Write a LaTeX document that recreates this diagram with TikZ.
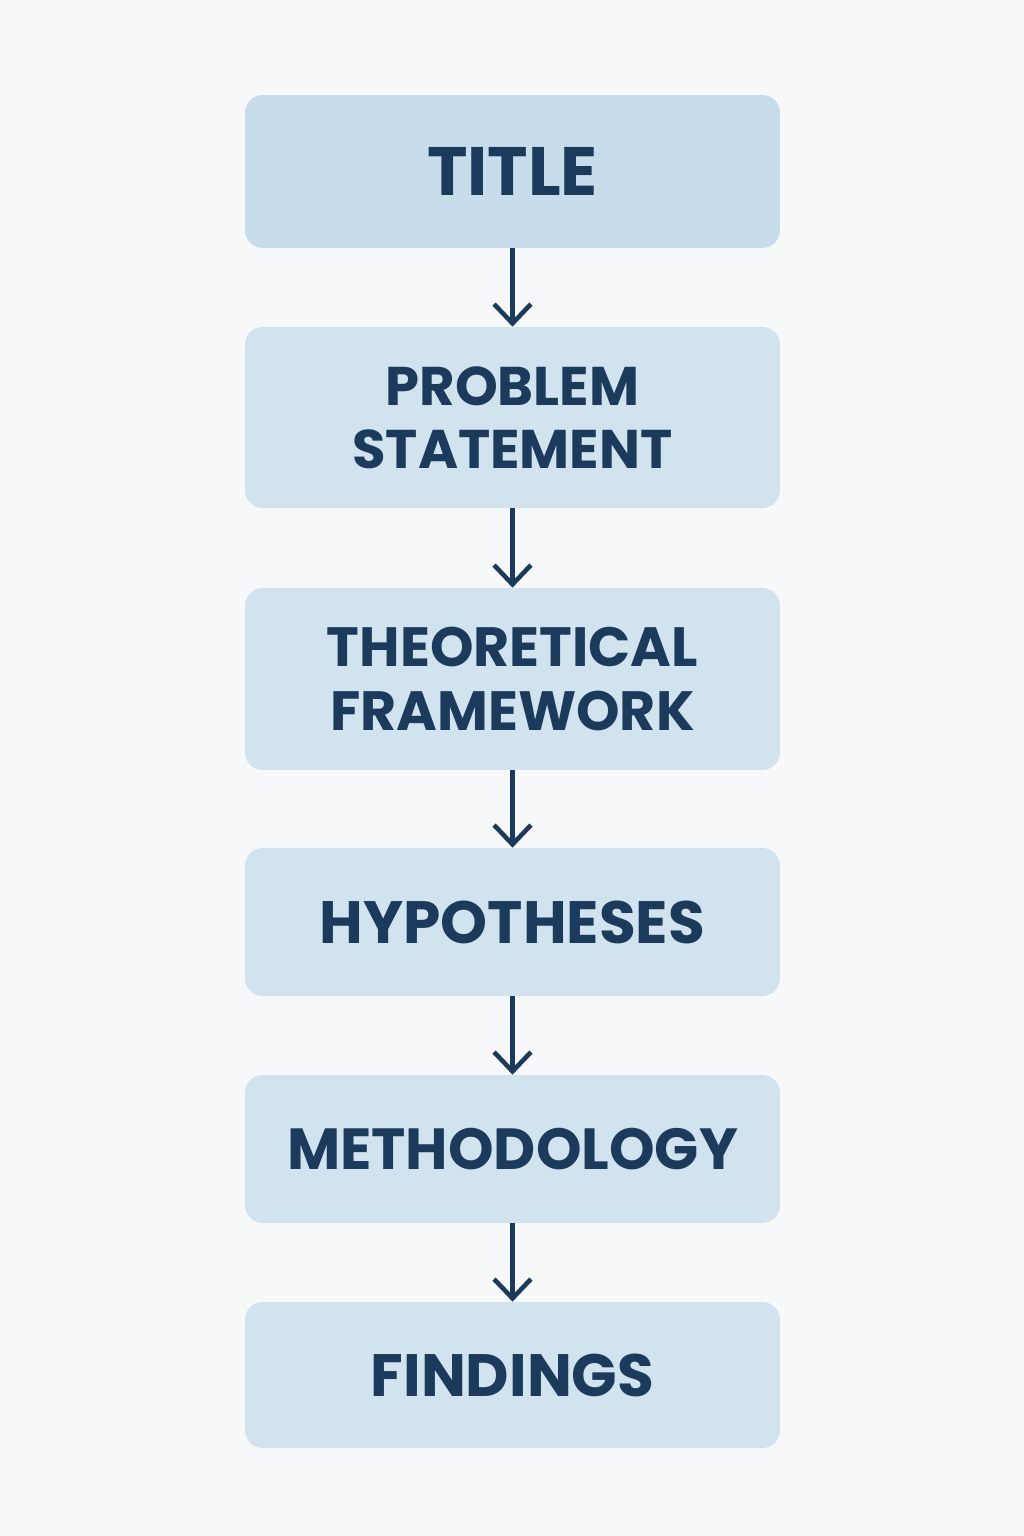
\documentclass[tikz,border=0pt]{standalone}
\usepackage{fontspec}
\setmainfont{Poppins}[UprightFont=* SemiBold,BoldFont=* Bold]
\usetikzlibrary{arrows.meta}
\definecolor{bgcol}{HTML}{F7F8F9}
\definecolor{boxcol}{HTML}{D1E3EE}
\definecolor{topcol}{HTML}{C7DDEB}
\definecolor{inkcol}{HTML}{1B3A5C}
\tikzset{
    stage/.style={rectangle,rounded corners=10pt,fill=boxcol,text=inkcol,
        minimum width=10.7cm,align=center,font=\bfseries},
    flow/.style={draw=inkcol,line width=2.8pt,-{Straight Barb[length=11pt,width=21pt,line width=2.6pt]}}
}
\begin{document}
\begin{tikzpicture}[x=0.02cm,y=-0.02cm]
    \fill[bgcol] (0,0) rectangle (1024,1536);
    \node[stage,fill=topcol,minimum height=3.06cm,font=\bfseries\fontsize{39}{40}\selectfont] (title) at (512.5,171.5) {TITLE};
    \node[stage,minimum height=3.62cm,font=\bfseries\fontsize{31}{36}\selectfont] (problem) at (512.5,417.5) {PROBLEM\\STATEMENT};
    \node[stage,minimum height=3.64cm,font=\bfseries\fontsize{31.5}{36}\selectfont] (theory) at (512.5,679) {THEORETICAL\\FRAMEWORK};
    \node[stage,minimum height=2.96cm,font=\bfseries\fontsize{34}{40}\selectfont] (hypo) at (512.5,922) {HYPOTHESES};
    \node[stage,minimum height=2.96cm,font=\bfseries\fontsize{33}{40}\selectfont] (method) at (512.5,1149) {METHODOLOGY};
    \node[stage,minimum height=2.92cm,font=\bfseries\fontsize{34}{40}\selectfont] (findings) at (512.5,1375) {FINDINGS};
    \draw[flow] (title) -- (problem);
    \draw[flow] (problem) -- (theory);
    \draw[flow] (theory) -- (hypo);
    \draw[flow] (hypo) -- (method);
    \draw[flow] (method) -- (findings);
\end{tikzpicture}
\end{document}
